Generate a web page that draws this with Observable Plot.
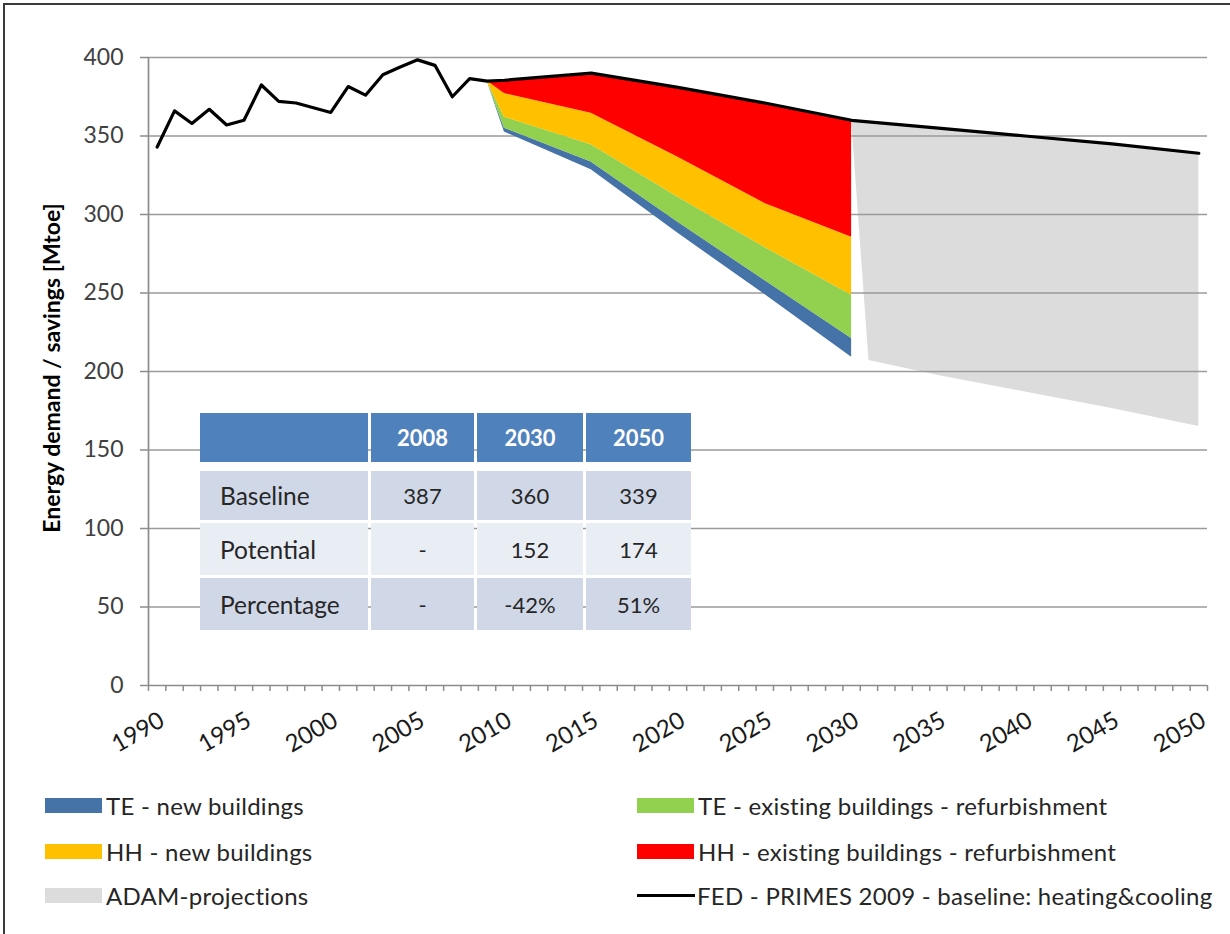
<!DOCTYPE html>
<html>
<head>
<meta charset="utf-8">
<script src="https://cdn.jsdelivr.net/npm/d3@7"></script>
<script src="https://cdn.jsdelivr.net/npm/@observablehq/plot@0.6"></script>
<style>
  body { margin: 0; background: #fff; }
  #wrap { position: relative; width: 1230px; height: 934px; overflow: hidden; font-family: Lato, "Open Sans", sans-serif; color: #262626; }
  #frame { position: absolute; left: 3px; top: 3px; width: 1300px; height: 1000px; border-left: 2px solid #3a3a3a; border-top: 2px solid #3a3a3a; pointer-events: none; }
  #chart { position: absolute; left: 0; top: 0; }
  #ytitle { position: absolute; left: 51px; top: 368px; transform: translate(-50%, -50%) rotate(-90deg); font-weight: bold; font-size: 23px; white-space: nowrap; color: #000; }
  #table { position: absolute; left: 200px; top: 413px; }
  .trow { display: flex; gap: 3px; }
  .cell { display: flex; align-items: center; justify-content: center; font-size: 22px; color: #262626; }
  .cell.first { justify-content: flex-start; padding-left: 20px; box-sizing: border-box; font-size: 24.5px; }
  .head .cell { background: #4F81BD; color: #fff; font-weight: bold; }
  .legend-item { position: absolute; display: flex; align-items: center; font-size: 24px; letter-spacing: 0.25px; color: #262626; white-space: nowrap; }
  .sw { width: 57px; height: 15px; margin-right: 4px; }
  .swline { width: 58px; height: 3px; background: #000; margin-right: 2px; }
</style>
</head>
<body>
<div id="wrap">
  <div id="chart"></div>
  <div id="ytitle"></div>
  <div id="table"></div>
  <div id="legend"></div>
  <div id="frame"></div>
</div>
<script>
// ---------- data ----------
const baseYears = [1990,1991,1992,1993,1994,1995,1996,1997,1998,1999,2000,2001,2002,2003,2004,2005,2006,2007,2008,2009,2010,2015,2020,2025,2030,2035,2040,2045,2050];
const baseValues = [343,366,358,367,357,360,382.5,372,371,368,365,381.5,376,389,394,398.5,395,375,386.5,385,385.5,390,381,371,360,355,350,345,339];

const savingYears = [2009,2010,2015,2020,2025,2030];
const teNew      = [0, 2.5, 5, 7, 9, 12];
const teExisting = [0, 7, 11, 16, 21, 27.5];
const hhNew      = [0, 15, 20, 25.5, 28, 37];
const hhExisting = [0, 8.5, 25.5, 44.5, 64, 74.5];

const adamYears = [2030,2031,2035,2040,2045,2050];
const adamTop   = [360,359,355,350,345,339];
const adamLow   = [360,207,197.5,187,176.5,165];

const seriesNames  = ["TE - new buildings","TE - existing buildings - refurbishment","HH - new buildings","HH - existing buildings - refurbishment"];
const seriesColors = ["#4573A8","#92D050","#FFC000","#FF0000"];
const adamName = "ADAM-projections";
const adamColor = "#DCDCDC";
const lineName = "FED - PRIMES 2009 - baseline: heating&cooling";

const yTicks = [0,50,100,150,200,250,300,350,400];
const xLabelYears = [1990,1995,2000,2005,2010,2015,2020,2025,2030,2035,2040,2045,2050];
const xDomain = [1989.5, 2050.5];

const tableHeader = ["", "2008", "2030", "2050"];
const tableLabels = ["Baseline", "Potential", "Percentage"];
const tableBaseline = ["387", "360", "339"];
const tablePotential = ["-", "152", "174"];
const tablePercentage = ["-", "-42%", "51%"];

// ---------- build tables ----------
const baseRows = baseYears.map((year, i) => ({year, value: baseValues[i]}));
const baseOf = new Map(baseRows.map(d => [d.year, d.value]));
const seriesValues = [teNew, teExisting, hhNew, hhExisting];
const stackRows = [];
savingYears.forEach((year, i) => {
  const top = baseOf.get(year);
  const total = seriesValues.reduce((s, arr) => s + arr[i], 0);
  let lo = top - total;
  seriesValues.forEach((arr, k) => {
    stackRows.push({year, series: seriesNames[k], y1: lo, y2: lo + arr[i]});
    lo += arr[i];
  });
});
const adamRows = adamYears.map((year, i) => ({year, low: adamLow[i], high: adamTop[i]}));
const boundaries = d3.range(xDomain[0], xDomain[1] + 0.01, 1);

// ---------- chart ----------
const chart = Plot.plot({
  width: 1230,
  height: 780,
  marginLeft: 148,
  marginRight: 23,
  marginTop: 57,
  marginBottom: 95,
  style: {fontFamily: "Lato, 'Open Sans', sans-serif", fontSize: "23px", color: "#404040", background: "transparent", overflow: "visible"},
  x: {domain: xDomain, label: null},
  y: {domain: [0, 400], label: null},
  color: {domain: seriesNames, range: seriesColors},
  marks: [
    Plot.areaY(adamRows, {x: "year", y1: "low", y2: "high", fill: adamColor}),
    Plot.ruleY(yTicks.filter(d => d > 0), {stroke: "#9a9a9a", strokeWidth: 1.7}),
    Plot.areaY(stackRows, {x: "year", y1: "y1", y2: "y2", fill: "series"}),
    Plot.line(baseRows, {x: "year", y: "value", stroke: "#000", strokeWidth: 3.2, strokeLinejoin: "round"}),
    Plot.ruleX([xDomain[0]], {stroke: "#8c8c8c", strokeWidth: 1.7}),
    Plot.ruleY([0], {stroke: "#8c8c8c", strokeWidth: 1.7}),
    Plot.axisY({ticks: yTicks, tickSize: 8, tickPadding: 17, stroke: "#8c8c8c", strokeWidth: 1.5, label: null, fill: "#404040"}),
    Plot.axisX({ticks: boundaries, tickSize: 6, tickFormat: () => "", stroke: "#8c8c8c", strokeWidth: 1.5, label: null}),
    Plot.axisX({ticks: xLabelYears, tickSize: 0, tickPadding: 33, tickRotate: -30, tickFormat: d => String(d), dx: 5, fontSize: 24, label: null, fill: "#1a1a1a"})
  ]
});
document.getElementById("chart").appendChild(chart);

// ---------- y title ----------
document.getElementById("ytitle").textContent = "Energy demand / savings [Mtoe]";

// ---------- table ----------
const colW = [168, 103, 106, 105];
const tbl = document.getElementById("table");
function makeRow(cells, cls, h, bg, mb) {
  const r = document.createElement("div");
  r.className = "trow " + cls;
  r.style.marginBottom = mb + "px";
  cells.forEach((c, i) => {
    const d = document.createElement("div");
    d.className = "cell" + (i === 0 ? " first" : "");
    d.style.width = colW[i] + "px";
    d.style.height = h + "px";
    if (bg) d.style.background = bg;
    d.textContent = c;
    r.appendChild(d);
  });
  tbl.appendChild(r);
}
makeRow(tableHeader, "head", 49, null, 9);
makeRow([tableLabels[0], ...tableBaseline], "", 49, "#D0D8E8", 3);
makeRow([tableLabels[1], ...tablePotential], "", 52, "#E9EDF4", 3);
makeRow([tableLabels[2], ...tablePercentage], "", 52, "#D0D8E8", 0);

// ---------- legend ----------
const legendItems = [
  {name: seriesNames[0], color: seriesColors[0], col: 0, row: 0},
  {name: seriesNames[1], color: seriesColors[1], col: 1, row: 0},
  {name: seriesNames[2], color: seriesColors[2], col: 0, row: 1},
  {name: seriesNames[3], color: seriesColors[3], col: 1, row: 1},
  {name: adamName, color: adamColor, col: 0, row: 2},
  {name: lineName, color: null, col: 1, row: 2}
];
const colX = [45, 637];
const rowY = [805, 851, 895];
const leg = document.getElementById("legend");
legendItems.forEach(it => {
  const d = document.createElement("div");
  d.className = "legend-item";
  d.style.left = colX[it.col] + "px";
  d.style.top = (rowY[it.row] - 16) + "px";
  d.style.height = "32px";
  const s = document.createElement("div");
  if (it.color) { s.className = "sw"; s.style.background = it.color; }
  else { s.className = "swline"; }
  const t = document.createElement("span");
  t.textContent = it.name;
  d.appendChild(s); d.appendChild(t);
  leg.appendChild(d);
});
</script>
</body>
</html>
